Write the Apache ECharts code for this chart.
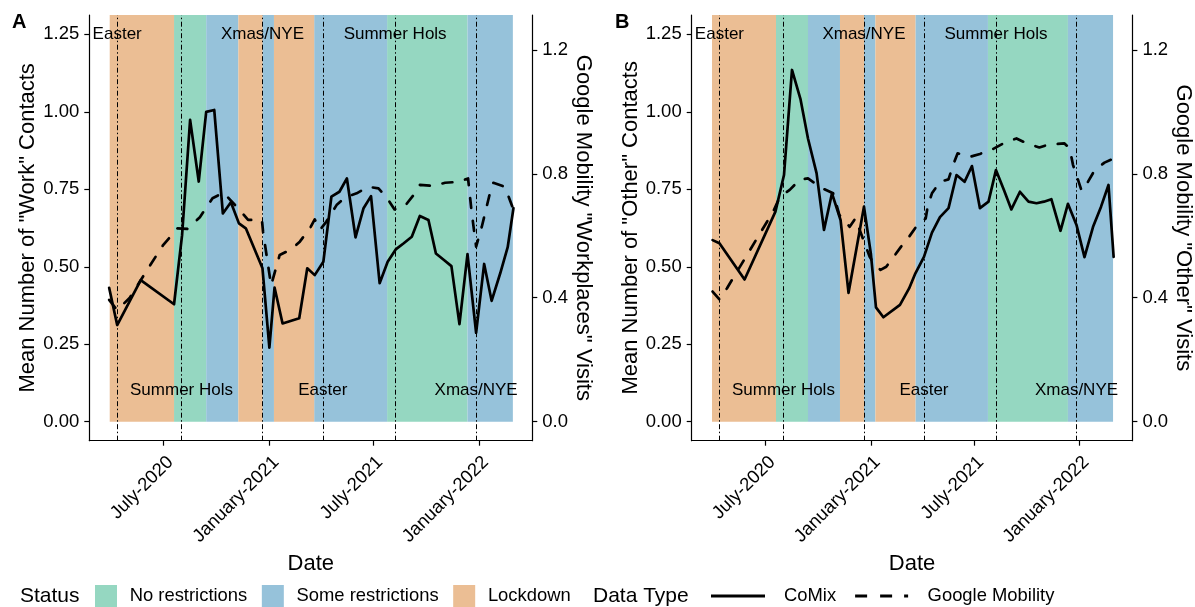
<!DOCTYPE html>
<html><head><meta charset="utf-8">
<script src="https://cdn.jsdelivr.net/npm/echarts@6/dist/echarts.min.js"></script>
<style>html,body{margin:0;padding:0;background:#fff}#c{width:1195px;height:607px}</style>
</head><body><div id="c"></div>
<script>
// ---------------- DATA ----------------
const workComixDates = ['2020-03-28','2020-04-11','2020-05-22','2020-07-19','2020-08-02','2020-08-16','2020-08-31','2020-09-13','2020-09-27','2020-10-12','2020-10-26','2020-11-09','2020-11-21','2020-12-20','2021-01-01','2021-01-10','2021-01-24','2021-02-22','2021-03-08','2021-03-21','2021-04-05','2021-04-19','2021-05-03','2021-05-16','2021-05-31','2021-06-14','2021-06-27','2021-07-12','2021-07-26','2021-08-09','2021-08-23','2021-09-06','2021-09-20','2021-10-05','2021-10-18','2021-11-01','2021-11-14','2021-11-28','2021-12-12','2021-12-27','2022-01-10','2022-01-23','2022-02-07','2022-02-20','2022-03-02'];
const workComixValues = [0.432,0.312,0.457,0.379,0.602,0.974,0.775,1.000,1.006,0.672,0.708,0.640,0.624,0.495,0.239,0.433,0.317,0.334,0.495,0.473,0.516,0.726,0.742,0.785,0.595,0.689,0.728,0.447,0.516,0.556,0.576,0.597,0.664,0.651,0.543,0.522,0.502,0.315,0.541,0.287,0.509,0.390,0.479,0.563,0.689];

const workGoogleDates = ['2020-03-28','2020-04-11','2020-05-03','2020-06-04','2020-06-30','2020-07-25','2020-08-11','2020-09-02','2020-09-24','2020-10-13','2020-11-07','2020-11-25','2020-12-19','2020-12-21','2021-01-04','2021-01-19','2021-02-09','2021-02-23','2021-03-13','2021-03-21','2021-03-30','2021-04-10','2021-04-28','2021-05-13','2021-06-02','2021-06-22','2021-07-10','2021-07-24','2021-08-07','2021-08-25','2021-09-09','2021-09-20','2021-10-13','2021-11-03','2021-11-26','2021-12-13','2021-12-19','2021-12-27','2022-01-06','2022-01-20','2022-01-26','2022-02-15','2022-03-03'];
const workGoogleValues = [0.393,0.36,0.40,0.495,0.570,0.624,0.622,0.66,0.721,0.739,0.69,0.651,0.651,0.613,0.44,0.538,0.557,0.581,0.625,0.653,0.619,0.645,0.699,0.724,0.737,0.758,0.753,0.724,0.685,0.696,0.731,0.764,0.761,0.771,0.774,0.785,0.68,0.565,0.63,0.737,0.771,0.758,0.68];

const otherComixDates = ['2020-03-30','2020-04-11','2020-05-25','2020-07-18','2020-08-02','2020-08-16','2020-08-31','2020-09-13','2020-09-28','2020-10-11','2020-10-25','2020-11-09','2020-11-23','2020-12-20','2021-01-01','2021-01-10','2021-01-23','2021-02-21','2021-03-09','2021-03-20','2021-04-04','2021-04-18','2021-05-02','2021-05-17','2021-05-31','2021-06-14','2021-06-27','2021-07-11','2021-07-26','2021-08-08','2021-08-22','2021-09-04','2021-09-19','2021-10-04','2021-10-18','2021-10-31','2021-11-13','2021-11-29','2021-12-12','2021-12-27','2022-01-10','2022-01-25','2022-02-08','2022-02-21','2022-03-02'];
const otherComixValues = [0.586,0.576,0.459,0.678,0.796,1.135,1.040,0.914,0.802,0.619,0.737,0.651,0.416,0.694,0.543,0.369,0.337,0.377,0.430,0.479,0.532,0.610,0.660,0.689,0.796,0.774,0.825,0.689,0.710,0.812,0.748,0.685,0.742,0.710,0.705,0.710,0.718,0.616,0.703,0.635,0.531,0.629,0.694,0.764,0.532];

const otherGoogleDates = ['2020-03-30','2020-04-11','2020-04-24','2020-07-14','2020-07-26','2020-08-12','2020-08-30','2020-09-13','2020-10-08','2020-10-27','2020-11-07','2020-11-25','2020-12-05','2020-12-30','2021-01-08','2021-01-18','2021-01-28','2021-02-10','2021-02-23','2021-03-09','2021-03-22','2021-04-07','2021-04-11','2021-04-18','2021-05-02','2021-05-17','2021-05-25','2021-06-02','2021-06-24','2021-07-11','2021-08-02','2021-08-21','2021-09-13','2021-10-01','2021-10-23','2021-11-10','2021-12-06','2021-12-15','2021-12-21','2021-12-28','2022-01-05','2022-01-16','2022-01-28','2022-02-14','2022-02-25'];
const otherGoogleValues = [0.42,0.395,0.43,0.678,0.726,0.748,0.782,0.785,0.753,0.737,0.667,0.629,0.656,0.532,0.506,0.49,0.50,0.532,0.565,0.597,0.631,0.656,0.699,0.737,0.774,0.782,0.828,0.866,0.855,0.864,0.879,0.898,0.914,0.898,0.885,0.895,0.898,0.882,0.828,0.79,0.745,0.774,0.812,0.836,0.845];

const statusNames = ['No restrictions','Some restrictions','Lockdown'];
const statusStarts = ['2020-03-29','2020-07-19','2020-09-13','2020-11-08','2020-12-20','2021-01-09','2021-03-20','2021-07-25','2021-12-12'];
const statusEnds   = ['2020-07-19','2020-09-13','2020-11-08','2020-12-20','2021-01-09','2021-03-20','2021-07-25','2021-12-12','2022-03-01'];
const statusTypes  = ['Lockdown','No restrictions','Some restrictions','Lockdown','Some restrictions','Lockdown','Some restrictions','No restrictions','Some restrictions'];

const eventDates  = ['2020-04-11','2020-08-01','2020-12-20','2021-04-04','2021-08-08','2021-12-27'];
const eventLabels = ['Easter','Summer Hols','Xmas/NYE','Easter','Summer Hols','Xmas/NYE'];
const eventLabelY = [1.25,0.1,1.25,0.1,1.25,0.1];

const leftTicks  = [0,0.25,0.5,0.75,1,1.25];
const rightTicks = [0,0.4,0.8,1.2];
const xTickDates = ['2020-07-01','2021-01-01','2021-07-01','2022-01-01'];
const monthNames = ['January','February','March','April','May','June','July','August','September','October','November','December'];

// ---------------- STYLE / LAYOUT ----------------
const FONT = '"Liberation Sans", Arial, sans-serif';
const statusColors = {'No restrictions':'#95D7C1','Some restrictions':'#96C2DA','Lockdown':'#EBBE94'};
const Y_MIN = -0.0613, Y_MAX = 1.3124;
const X_MIN = '2020-02-22 10:48', X_MAX = '2022-04-03 20:00';

const toTs = s => { const p = s.split(/[- :]/).map(Number); return new Date(p[0], p[1]-1, p[2], p[3]||0, p[4]||0).getTime(); };
const pairs = (d, v) => d.map((s,i) => [toTs(s), v[i]]);

const panels = [
  {grid:{left:89.3, top:15, width:443, height:425.7}, yName:'Mean Number of "Work" Contacts', y2Name:'Google Mobility "Workplaces" Visits',
   comix: pairs(workComixDates, workComixValues), google: pairs(workGoogleDates, workGoogleValues)},
  {grid:{left:691.7, top:15, width:443.3, height:425.7}, yName:'Mean Number of "Other" Contacts', y2Name:'Google Mobility "Other" Visits',
   comix: pairs(otherComixDates, otherComixValues), google: pairs(otherGoogleDates, otherGoogleValues)}
];

const axisLineStyle = {color:'#000', width:1.2};
const labelStyle = {fontSize:18.5, color:'#000', fontFamily:FONT};
const nameStyle = {fontSize:22, color:'#000', fontFamily:FONT};

const grids = [], xAxes = [], yAxes = [], series = [];
panels.forEach((p, i) => {
  grids.push(p.grid);
  xAxes.push({
    type:'value', gridIndex:i, min:toTs(X_MIN), max:toTs(X_MAX),
    name:'Date', nameLocation:'middle', nameGap:107, nameTextStyle:nameStyle,
    axisLine:{show:true, onZero:false, lineStyle:axisLineStyle},
    axisTick:{show:true, length:5, lineStyle:axisLineStyle, customValues:xTickDates.map(toTs)},
    axisLabel:Object.assign({rotate:45, align:'right', verticalAlign:'top', margin:12,
      customValues:xTickDates.map(toTs),
      formatter: v => { const d = new Date(v); return monthNames[d.getMonth()] + '-' + d.getFullYear(); }}, labelStyle),
    splitLine:{show:false}, minorTick:{show:false}
  });
  yAxes.push({
    type:'value', gridIndex:i, position:'left', min:Y_MIN, max:Y_MAX,
    name:p.yName, nameLocation:'middle', nameGap:49, nameRotate:90, nameTextStyle:nameStyle,
    axisLine:{show:true, onZero:false, lineStyle:axisLineStyle},
    axisTick:{show:true, length:5, lineStyle:axisLineStyle, customValues:leftTicks},
    axisLabel:Object.assign({margin:10, customValues:leftTicks, formatter:v => v.toFixed(2)}, labelStyle),
    splitLine:{show:false}
  });
  yAxes.push({
    type:'value', gridIndex:i, position:'right', min:Y_MIN, max:Y_MAX,
    name:p.y2Name, nameLocation:'middle', nameGap:36, nameRotate:-90, nameTextStyle:nameStyle,
    axisLine:{show:true, onZero:false, lineStyle:axisLineStyle},
    axisTick:{show:true, length:5, lineStyle:axisLineStyle, customValues:rightTicks},
    axisLabel:Object.assign({margin:10, customValues:rightTicks, formatter:v => v.toFixed(1)}, labelStyle),
    splitLine:{show:false}
  });

  statusNames.forEach(name => {
    const areas = [];
    statusTypes.forEach((t, k) => {
      if (t === name) areas.push([{xAxis:toTs(statusStarts[k]), yAxis:0}, {xAxis:toTs(statusEnds[k]), yAxis:Y_MAX}]);
    });
    series.push({
      type:'line', name, xAxisIndex:i, yAxisIndex:2*i, data:[], color:statusColors[name], silent:true, z:1,
      markArea:{silent:true, itemStyle:{color:statusColors[name], opacity:1, borderWidth:0}, emphasis:{disabled:true}, data:areas}
    });
  });

  series.push({
    type:'line', name:'events', xAxisIndex:i, yAxisIndex:2*i, data:[], silent:true, z:2,
    markLine:{silent:true, symbol:['none','none'], label:{show:false}, emphasis:{disabled:true},
      lineStyle:{color:'#000', width:1, type:[5,2.5,1.5,2.5]},
      data:eventDates.map(d => ({xAxis:toTs(d)}))}
  });

  series.push({
    type:'scatter', name:'eventLabels', xAxisIndex:i, yAxisIndex:2*i, silent:true, z:5,
    data:eventDates.map((d,k) => [toTs(d), eventLabelY[k]]),
    symbolSize:1, itemStyle:{color:'#000', opacity:0},
    label:{show:true, position:'inside', formatter:prm => eventLabels[prm.dataIndex], fontSize:17, color:'#000',
      opacity:1, textBorderWidth:0, textBorderColor:'transparent', fontFamily:FONT}
  });

  series.push({
    type:'line', name:'CoMix', xAxisIndex:i, yAxisIndex:2*i, data:p.comix, symbol:'none', color:'#000', z:4, silent:true,
    lineStyle:{color:'#000', width:2.7, cap:'round', join:'round'}
  });
  series.push({
    type:'line', name:'Google Mobility', xAxisIndex:i, yAxisIndex:2*i+1, data:p.google, symbol:'none', color:'#000', z:4, silent:true,
    lineStyle:{color:'#000', width:2.7, type:[10,13], cap:'round', join:'round'}
  });
});

const option = {
  animation:false,
  backgroundColor:'#fff',
  textStyle:{fontFamily:FONT},
  title:[
    {text:'A', left:12, top:12, padding:0, textStyle:{fontSize:20, fontWeight:'bold', color:'#000', fontFamily:FONT}},
    {text:'B', left:615, top:12, padding:0, textStyle:{fontSize:20, fontWeight:'bold', color:'#000', fontFamily:FONT}},
    {text:'Status', left:20, top:586, padding:0, textStyle:{fontSize:21, fontWeight:'normal', color:'#000', fontFamily:FONT}},
    {text:'Data Type', left:593, top:586, padding:0, textStyle:{fontSize:21, fontWeight:'normal', color:'#000', fontFamily:FONT}}
  ],
  legend:[
    {data:statusNames.map(n => ({name:n, icon:'rect'})), left:95, top:585, itemWidth:22, itemHeight:22, itemGap:14.6, padding:0,
     selectedMode:false, textStyle:{fontSize:18.4, color:'#000', fontFamily:FONT, padding:[0,0,0,7.7]}},
    {data:[{name:'CoMix', icon:'rect'}, {name:'Google Mobility', icon:'path://M0 0h12v3h-12zM25 0h12v3h-12zM49 0h4v3h-4z'}],
     left:711, top:587, itemWidth:54, itemHeight:3, itemGap:19, padding:0,
     selectedMode:false, textStyle:{fontSize:18.4, color:'#000', fontFamily:FONT, padding:[0,0,0,14]}}
  ],
  grid:grids, xAxis:xAxes, yAxis:yAxes, series
};

const chart = echarts.init(document.getElementById('c'), null, {renderer:'canvas'});
chart.setOption(option);
</script></body></html>
